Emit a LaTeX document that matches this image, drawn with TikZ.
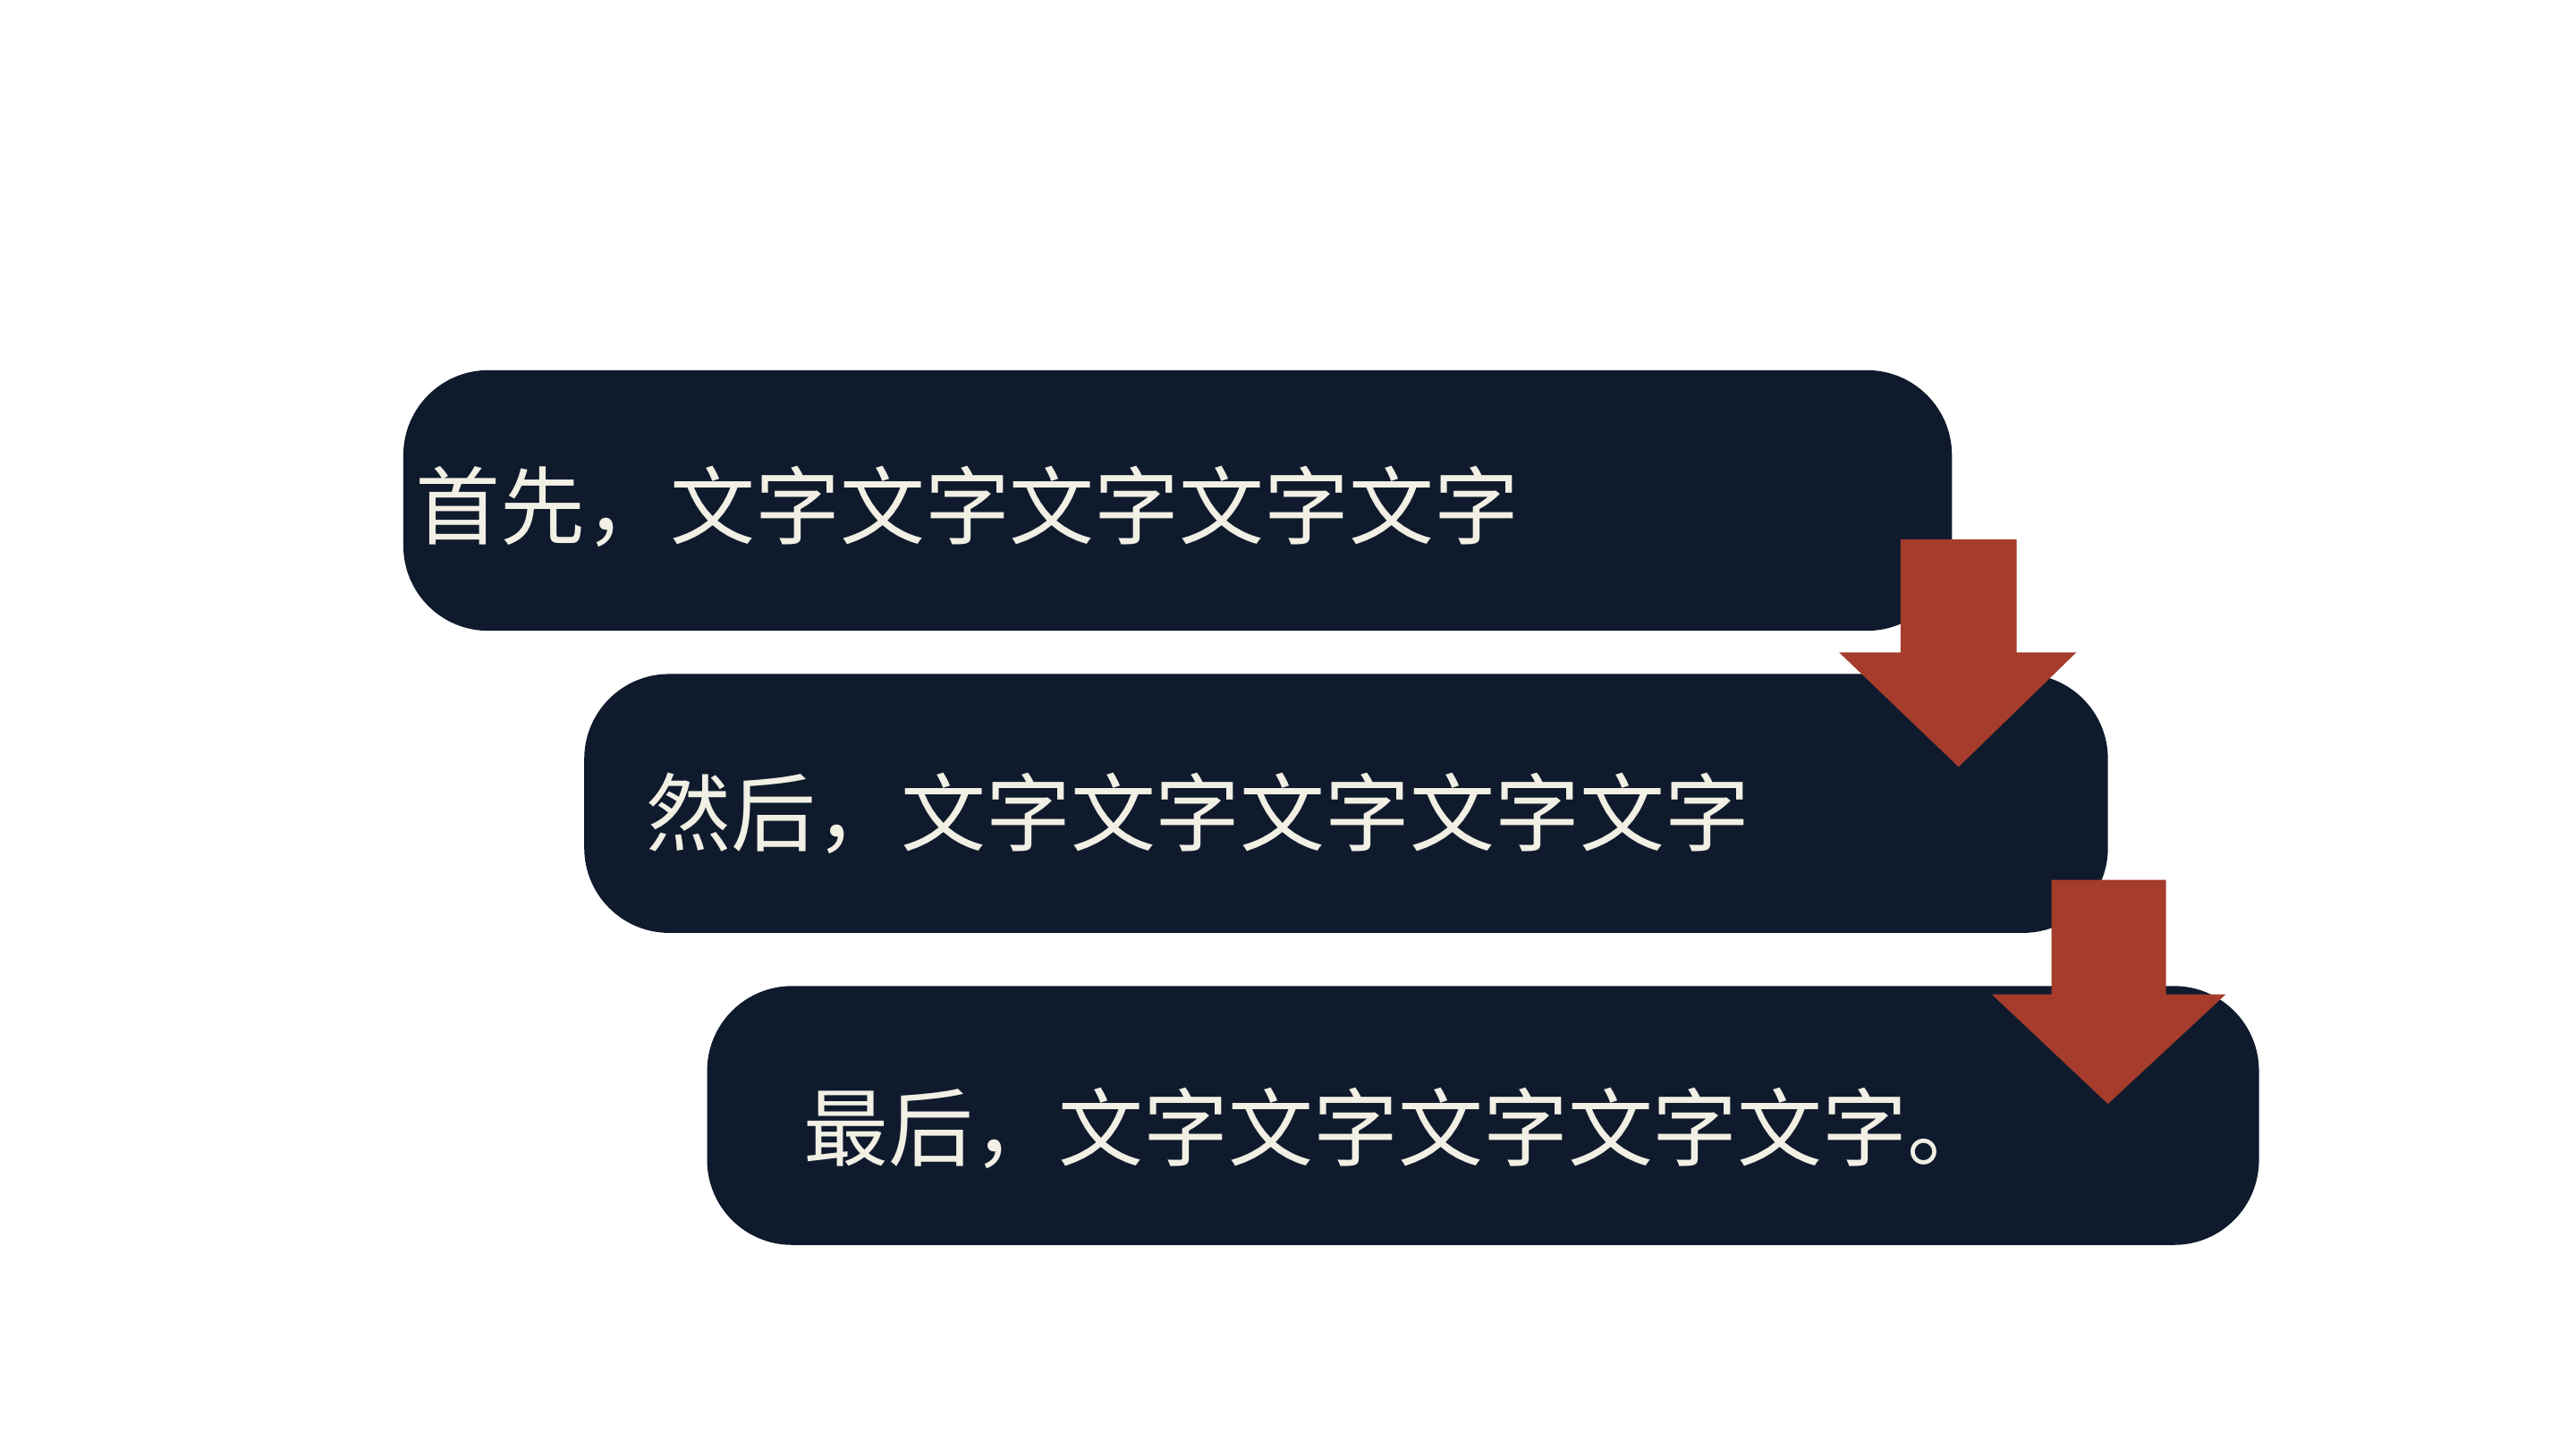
\documentclass[tikz,border=0pt]{standalone}
\usepackage{fontspec}
\newfontfamily\cjk{Noto Sans CJK SC}
\definecolor{boxc}{HTML}{0F1B2D}
\definecolor{arrc}{HTML}{A63C2C}
\definecolor{txtc}{HTML}{F2EFE4}
\begin{document}
\begin{tikzpicture}[x=0.018557cm,y=-0.018557cm,
  stepbox/.style={fill=boxc,rounded corners=0.95cm},
  label/.style={anchor=west,text=txtc,font=\cjk\fontsize{27}{30}\selectfont,inner sep=0pt},
  arr/.style={fill=arrc}]
\useasboundingbox (0,0) rectangle (1552,873);
\fill[stepbox] (243,223) rectangle (1176,380);
\fill[stepbox] (352,406) rectangle (1270,562);
\fill[stepbox] (426,594) rectangle (1361,750);
\node[label] (t1) at (250,305) {首先，文字文字文字文字文字};
\node[label] (t2) at (389,490) {然后，文字文字文字文字文字};
\node[label] (t3) at (484,680) {最后，文字文字文字文字文字。};
\fill[arr] (1145,325) -- (1215,325) -- (1215,393) -- (1251,393) -- (1180,462) -- (1108,393) -- (1145,393) -- cycle;
\fill[arr] (1236,530) -- (1305,530) -- (1305,599) -- (1341,599) -- (1270,665) -- (1200,599) -- (1236,599) -- cycle;
\end{tikzpicture}
\end{document}
